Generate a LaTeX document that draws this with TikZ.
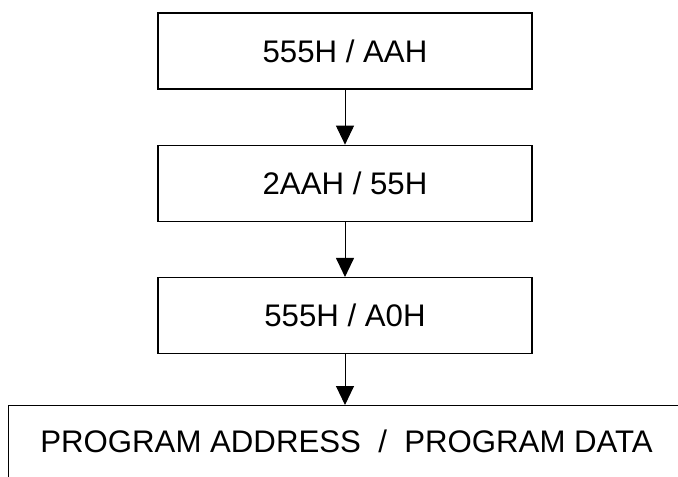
\documentclass[tikz,border=0pt]{standalone}
\usepackage{fontspec}
\setmainfont{Liberation Sans}
\usetikzlibrary{positioning, arrows.meta}

\begin{document}
\begin{tikzpicture}[x=1pt, y=1pt,
        stepbox/.style={draw, line width=1.3pt, minimum width=374pt,
                        minimum height=76pt, inner sep=0pt,
                        font=\fontsize{31.2}{37}\selectfont},
        progbox/.style={draw, line width=1.1pt, minimum width=676pt,
                        inner xsep=0pt, inner ysep=25pt, text height=22pt,
                        text depth=40pt, font=\fontsize{31.2}{37}\selectfont},
        flow/.style={-{Triangle[length=19pt, width=18pt]}, line width=1pt},
        node distance=55pt]

        \useasboundingbox (0,0) rectangle (678,-477);

        \node[stepbox] (s1) at (345,-51) {555H / AAH};
        \node[stepbox, below=of s1] (s2) {2AAH / 55H};
        \node[stepbox, below=of s2] (s3) {555H / A0H};

        \node[progbox, anchor=north west] (prog) at (8,-405)
              {PROGRAM ADDRESS\ \ /\ \ PROGRAM DATA};

        \draw[flow] (s1) -- (s2);
        \draw[flow] (s2) -- (s3);
        \draw[flow] (s3.south) -- (s3.south |- prog.north);

      \end{tikzpicture}
\end{document}
